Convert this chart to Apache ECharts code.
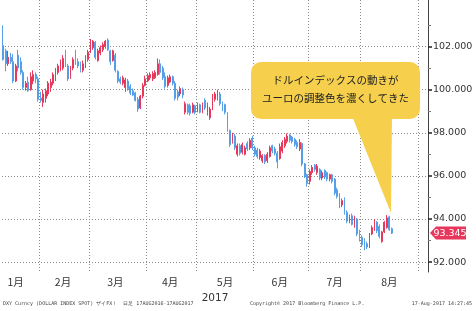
<!DOCTYPE html>
<html><head><meta charset="utf-8">
<script src="https://cdn.jsdelivr.net/npm/echarts@6/dist/echarts.min.js"></script>
<style>html,body{margin:0;padding:0;background:#fff}#c{width:476px;height:311px}</style>
</head><body><div id="c"></div>
<script>
// ---- data (DXY daily, 2017-01-11 .. 2017-08-17, trading days) ----
const startDate = '2017-01-11';
const totalSlots = 171; // trading-day slots shown on the axis (data + empty space to the right)
const opens = [
102.05,101.80,101.20,101.50,101.30,100.40,101.60,101.30,100.80,100.10,100.35,100.00,100.40,100.70,100.50,
99.60,99.40,99.60,99.80,100.10,100.30,100.50,100.80,100.90,101.00,101.50,101.10,100.60,101.00,101.60,101.30,101.20,100.90,101.15,101.40,
101.75,101.95,102.20,101.35,101.70,101.85,102.00,102.30,101.80,101.35,101.60,100.85,100.50,100.30,100.10,100.40,100.15,99.95,99.85,99.55,99.15,99.70,100.20,
100.40,100.55,100.50,100.55,100.70,101.20,101.00,100.60,100.20,100.35,100.60,100.30,99.90,99.80,100.00,98.95,99.30,99.25,98.95,99.25,
99.00,99.30,98.95,99.50,98.95,98.70,99.15,99.55,99.60,99.80,99.35,99.30,98.85,98.10,97.60,97.85,97.00,97.40,97.10,97.00,97.50,97.30,97.75,
97.30,97.20,96.85,96.70,96.95,96.70,96.90,97.40,97.25,97.05,96.80,97.15,97.40,97.60,97.90,97.80,97.70,97.55,97.25,97.50,96.55,96.05,
95.75,96.15,96.50,96.15,96.30,95.90,96.25,96.15,95.85,96.05,95.85,95.35,95.15,94.65,94.90,94.30,93.90,94.15,93.70,94.00,93.40,
93.15,93.00,92.85,92.75,93.30,93.55,93.85,93.65,92.95,93.40,93.60,94.10,93.55];
const closes = [
101.40,101.20,101.50,101.30,100.40,101.10,101.00,100.80,100.10,100.30,99.95,100.60,100.70,100.50,99.55,
99.50,99.80,99.95,100.30,100.35,100.70,100.90,101.10,101.30,101.45,101.15,100.50,101.00,101.40,101.25,101.10,100.90,101.20,101.50,101.75,
102.20,102.25,101.50,101.80,101.95,102.10,102.25,101.85,101.30,101.80,100.90,100.40,100.35,100.55,100.45,100.05,99.85,99.75,99.50,99.10,99.70,100.20,100.50,
100.65,100.70,100.75,100.80,101.20,100.80,100.55,100.15,100.55,100.60,100.30,99.60,99.65,100.05,99.75,99.35,98.95,98.90,99.30,98.95,
99.30,98.95,99.30,99.15,99.30,99.10,99.70,99.80,99.85,99.35,99.10,98.95,98.15,97.45,97.90,97.30,97.40,97.05,97.45,97.30,97.25,97.65,97.30,
97.00,96.90,97.15,96.95,96.65,97.00,97.30,97.15,97.05,96.65,97.35,97.55,97.70,97.85,97.65,97.60,97.45,97.35,97.55,96.55,96.00,95.65,
96.20,96.40,96.30,96.45,95.90,96.15,95.95,95.85,96.05,95.75,95.20,95.05,94.65,94.85,94.30,93.90,94.10,93.75,94.10,93.30,93.10,
92.80,92.80,92.70,93.25,93.60,93.90,93.45,93.20,93.40,93.85,94.05,93.50,93.345];
const lows = [
101.35,100.85,101.10,101.20,100.30,100.35,100.85,100.70,100.00,99.95,99.90,99.95,100.25,100.30,99.45,
99.40,99.20,99.40,99.70,99.90,100.20,100.40,100.70,100.85,100.90,101.05,100.40,100.50,100.90,101.15,101.00,100.80,100.80,101.00,101.30,
101.70,101.85,101.40,101.30,101.60,101.75,101.90,101.80,101.15,101.30,100.80,100.30,100.25,100.20,99.90,99.95,99.75,99.70,99.45,98.97,99.10,99.60,100.15,
100.35,100.45,100.40,100.50,100.65,100.70,100.45,100.05,100.10,100.30,100.20,99.50,99.50,99.70,99.60,98.85,98.85,98.80,98.90,98.85,
98.95,98.90,98.90,99.05,98.80,98.60,99.05,99.45,99.50,99.25,99.00,98.85,98.05,97.35,97.50,97.20,96.90,96.95,97.00,96.95,97.15,97.20,97.20,
96.90,96.80,96.75,96.60,96.55,96.60,96.85,97.05,96.95,96.35,96.75,97.05,97.30,97.50,97.55,97.50,97.35,97.25,97.15,96.45,95.90,95.50,
95.60,96.05,96.20,96.05,95.80,95.80,95.85,95.75,95.75,95.65,95.10,94.95,94.50,94.55,94.20,93.80,93.80,93.70,93.60,93.20,92.95,
92.70,92.55,92.60,92.65,93.25,93.45,93.35,93.10,92.90,93.35,93.55,93.45,93.30];
const highs = [
102.98,101.90,101.80,101.70,101.65,101.20,101.85,101.50,100.90,100.40,100.60,100.80,100.90,100.80,100.60,
99.90,100.00,100.05,100.40,100.50,100.80,101.00,101.20,101.40,101.60,101.85,101.20,101.10,101.50,101.85,101.45,101.30,101.35,101.60,101.85,
102.35,102.30,102.25,101.90,102.05,102.20,102.30,102.38,101.85,101.85,101.70,100.90,100.60,100.65,100.55,100.50,100.25,100.05,99.90,99.65,99.75,100.30,100.65,
100.75,100.80,100.85,100.90,101.45,101.40,101.10,100.80,100.65,100.70,100.65,100.40,100.00,100.15,100.10,99.45,99.35,99.35,99.40,99.30,
99.40,99.35,99.40,99.60,99.40,99.20,99.80,99.90,100.00,99.90,99.45,99.35,98.95,98.15,98.00,97.95,97.50,97.50,97.55,97.40,97.60,97.75,97.86,
97.40,97.30,97.25,97.00,97.00,97.10,97.40,97.45,97.35,97.15,97.50,97.65,97.80,97.97,97.95,97.85,97.75,97.65,97.70,97.55,96.60,96.10,
96.30,96.50,96.55,96.55,96.35,96.25,96.30,96.20,96.10,96.10,95.90,95.45,95.20,94.95,95.00,94.40,94.20,94.25,94.15,94.05,93.50,
93.25,93.10,92.95,93.35,93.70,94.00,93.90,93.75,93.45,93.90,94.18,94.15,93.60];
const monthLabels = ['1月','2月','3月','4月','5月','6月','7月','8月'];
const monthLabelDates = ['2017-01-18','2017-02-14','2017-03-15','2017-04-14','2017-05-16','2017-06-15','2017-07-17','2017-08-16'];
const yearLabel = '2017';
const yTicks = [92, 94, 96, 98, 100, 102];
const yMinorTicks = [93, 95, 97, 99, 101, 103];
const calloutText = ['ドルインデックスの動きが', 'ユーロの調整色を濃くしてきた'];
const footerLeft = 'DXY Curncy (DOLLAR INDEX SPOT) ザイFX！  日足 17AUG2016-17AUG2017';
const footerMid = 'Copyright© 2017 Bloomberg Finance L.P.';
const footerRight = '17-Aug-2017 14:27:45';

// ---- build trading-day categories ----
const dates = [];
{
  let d = new Date(startDate + 'T00:00:00Z');
  while (dates.length < totalSlots) {
    const wd = d.getUTCDay();
    if (wd !== 0 && wd !== 6) dates.push(d.toISOString().slice(0, 10));
    d = new Date(d.getTime() + 86400000);
  }
}
const monthStart = new Set();
dates.forEach((s, i) => { if (i > 0 && s.slice(5, 7) !== dates[i - 1].slice(5, 7)) monthStart.add(i); });
const labelMap = {};
monthLabelDates.forEach((s, i) => { labelMap[s] = monthLabels[i]; });

const candles = opens.map((o, i) => [o, closes[i], lows[i], highs[i]]);

const UP = '#e8375c', DOWN = '#559ee8';
const GRID = { left: 2, right: 48, top: 0, bottom: 39 };
const yMin = 91.54, yMax = 104.16;

const chart = echarts.init(document.getElementById('c'), null, { renderer: 'canvas' });
const option = {
  animation: false,
  backgroundColor: '#fff',
  grid: GRID,
  xAxis: {
    type: 'category', data: dates, boundaryGap: true,
    axisLine: { show: false }, axisTick: { show: false },
    splitLine: { show: true, interval: (idx) => monthStart.has(idx), lineStyle: { color: '#8a8a8a', type: [1, 2], width: 1 } },
    axisLabel: {
      interval: (idx, val) => labelMap[val] !== undefined,
      formatter: (val) => labelMap[val] || '',
      color: '#333', fontSize: 10.5, fontFamily: 'Noto Sans CJK JP', margin: 5
    },
    name: yearLabel, nameLocation: 'middle', nameGap: 16,
    nameTextStyle: { color: '#333', fontSize: 10.5, fontFamily: 'DejaVu Sans' }
  },
  yAxis: [{
    type: 'value', position: 'right', min: yMin, max: yMax, scale: true,
    axisLine: { show: true, lineStyle: { color: '#444', width: 1 } },
    axisTick: { show: true, customValues: yTicks, length: 4, lineStyle: { color: '#222', width: 1.5 } },
    axisLabel: { customValues: yTicks, formatter: (v) => v.toFixed(3), color: '#333', fontSize: 9.5, fontFamily: 'DejaVu Sans', margin: 5 },
    splitLine: { show: true, lineStyle: { color: '#8a8a8a', type: [1, 2], width: 1 } }
  }, {
    type: 'value', position: 'right', min: yMin, max: yMax, scale: true,
    axisLine: { show: false },
    axisTick: { show: true, customValues: yMinorTicks, length: 3, lineStyle: { color: '#777', width: 1 } },
    axisLabel: { show: false }, splitLine: { show: false }
  }],
  series: [{
    type: 'candlestick', data: candles, yAxisIndex: 0, barWidth: '55%',
    itemStyle: { color: UP, color0: DOWN, borderColor: UP, borderColor0: DOWN, borderWidth: 1 }
  }]
};
chart.setOption(option);

// graphics: callout, footer, last-price tag
const lastClose = closes[closes.length - 1];
const ty = chart.convertToPixel({ yAxisIndex: 0 }, lastClose);
const ax = 476 - GRID.right;
const FOOT_Y = 304;
chart.setOption({
  graphic: [
    { type: 'polygon', z: 50, shape: { points: [[352, 116], [392, 116], [391, 213]] }, style: { fill: '#f6d04d' } },
    { type: 'rect', z: 50, shape: { x: 251, y: 62, width: 169, height: 57, r: 10 }, style: { fill: '#f6d04d' } },
    { type: 'text', z: 51, x: 335.5, y: 89, style: { text: calloutText.join('\n'), align: 'center', verticalAlign: 'middle', lineHeight: 18, fontSize: 10.5, fontFamily: 'Noto Sans CJK JP', fill: '#222' } },
    { type: 'polygon', z: 50, shape: { points: [[ax + 2, ty], [ax + 8, ty - 6.5], [ax + 38, ty - 6.5], [ax + 38, ty + 6.5], [ax + 8, ty + 6.5]] }, style: { fill: '#e8375c' } },
    { type: 'text', z: 51, x: ax + 22, y: ty, style: { text: lastClose.toFixed(3), align: 'center', verticalAlign: 'middle', fontSize: 9.5, fontFamily: 'DejaVu Sans', fill: '#fff' } },
    { type: 'text', x: 3, y: FOOT_Y, style: { text: footerLeft, verticalAlign: 'middle', fontSize: 5, fontFamily: 'DejaVu Sans Mono', fill: '#444' } },
    { type: 'text', x: 250, y: FOOT_Y, style: { text: footerMid, verticalAlign: 'middle', fontSize: 5, fontFamily: 'DejaVu Sans Mono', fill: '#444' } },
    { type: 'text', x: 472, y: FOOT_Y, style: { text: footerRight, align: 'right', verticalAlign: 'middle', fontSize: 5, fontFamily: 'DejaVu Sans Mono', fill: '#444' } }
  ]
});
</script>
</body></html>
